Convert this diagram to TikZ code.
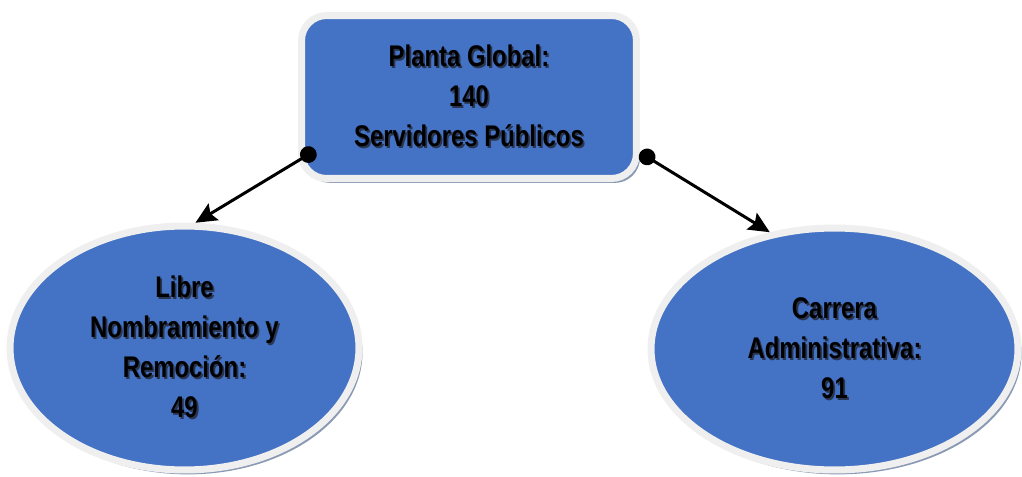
\documentclass[tikz,border=0pt]{standalone}
\usepackage{fontspec}
\setmainfont{Liberation Sans}[FakeStretch=0.8]
\usepackage{tikz}
\usetikzlibrary{positioning}
\usetikzlibrary{arrows.meta,shapes,shadows}
\usepackage{xcolor}
\definecolor{azul}{HTML}{4472C4}
\definecolor{borde}{HTML}{EFEFEF}
\definecolor{sombra}{HTML}{8A99B4}
\definecolor{sombratxt}{HTML}{2A3550}

% texto con sombra
\newcommand{\st}[1]{\leavevmode\rlap{\kern1pt\raisebox{-1pt}{\color{sombratxt}#1}}#1}

\tikzset{
  caja/.style={rectangle, rounded corners=0.5cm, fill=azul, draw=borde, line width=4pt,
    minimum width=6.7cm, minimum height=3.26cm, inner sep=0pt, align=center,
    font=\fontsize{17}{22.7}\selectfont\bfseries,
    drop shadow={shadow xshift=2pt, shadow yshift=-2.5pt, fill=sombra, opacity=1}},
  elipse/.style={ellipse, fill=azul, draw=borde, line width=4pt, inner sep=0pt, align=center,
    font=\fontsize{17}{22.7}\selectfont\bfseries,
    drop shadow={shadow xshift=2pt, shadow yshift=-2.5pt, fill=sombra, opacity=1}},
  flecha/.style={line width=1.7pt, {Circle[length=9.5pt]}-{Stealth[length=12pt,width=11pt,inset=2pt]}}
}

\begin{document}
\begin{tikzpicture}[x=0.02cm,y=-0.02cm]
\useasboundingbox (0,0) rectangle (1022,477);

\node[caja] (planta) at (469,97) {\st{Planta Global:}\\\st{140}\\\st{Servidores Públicos}};
\node[elipse, minimum width=6.98cm, minimum height=4.88cm] (libre) at (184.5,348)
  {\st{Libre}\\\st{Nombramiento y}\\\st{Remoción:}\\\st{49}};
\node[elipse, minimum width=7.34cm, minimum height=4.84cm] (carrera) at (834.5,349)
  {\st{Carrera}\\\st{Administrativa:}\\\st{91}};

\draw[flecha] ([xshift=0.35cm,yshift=0.18cm]planta.200) -- (libre.85);
\draw[flecha] (planta.-18) -- (carrera.119);

\end{tikzpicture}
\end{document}
